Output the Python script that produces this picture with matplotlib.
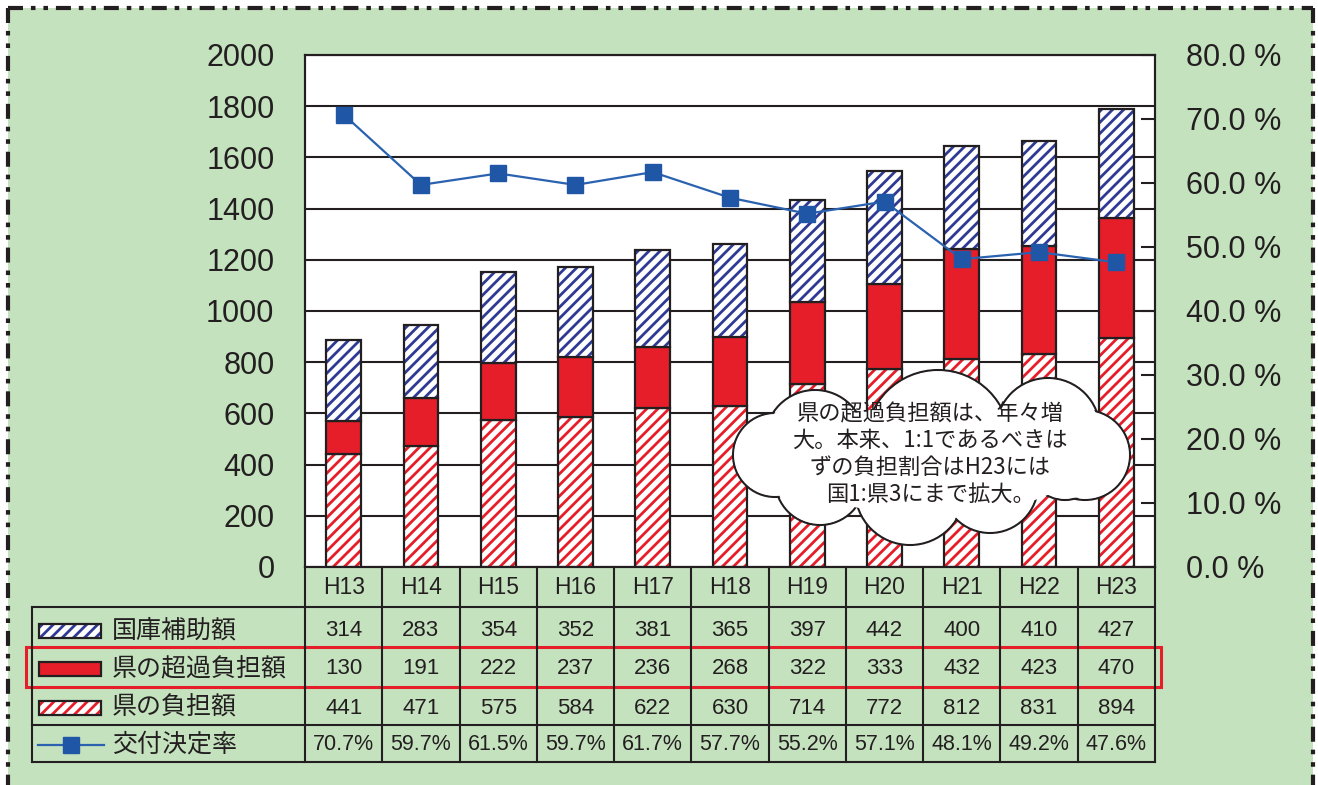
import matplotlib
matplotlib.use("Agg")
import numpy as np
import matplotlib.pyplot as plt
from matplotlib.patches import Rectangle, Circle, Ellipse
from matplotlib.transforms import blended_transform_factory

plt.rcParams['font.family'] = ['Liberation Sans', 'Noto Sans CJK JP', 'DejaVu Sans']
plt.rcParams['hatch.linewidth'] = 2.0

# data (億円 / %)
years = ['H13', 'H14', 'H15', 'H16', 'H17', 'H18', 'H19', 'H20', 'H21', 'H22', 'H23']
kokko = [314, 283, 354, 352, 381, 365, 397, 442, 400, 410, 427]     # 国庫補助額
chouka = [130, 191, 222, 237, 236, 268, 322, 333, 432, 423, 470]    # 県の超過負担額
ken = [441, 471, 575, 584, 622, 630, 714, 772, 812, 831, 894]       # 県の負担額
rate = [70.7, 59.7, 61.5, 59.7, 61.7, 57.7, 55.2, 57.1, 48.1, 49.2, 47.6]  # 交付決定率
row_names = ['国庫補助額', '県の超過負担額', '県の負担額', '交付決定率']
left_ticks = list(range(0, 2001, 200))
right_ticks = list(range(0, 81, 10))
note = "県の超過負担額は、年々増\n大。本来、1:1であるべきは\nずの負担割合はH23には\n国1:県3にまで拡大。"

GREEN = '#C5E2BF'
DARK = '#231F20'
RED = '#E61E2A'
BLUE_H = '#2E3A94'
LINE_BLUE = '#2A62B0'
MARK = '#1F56A6'
JP = ['Noto Sans CJK JP']
HATCH = '///'

W, H = 1318, 785
AX_L, AX_R, AX_T, AX_B = 305, 1155, 55, 567
TBL_L = 32

fig = plt.figure(figsize=(W / 100, H / 100), dpi=100)
fig.patch.set_facecolor('white')

# green panel behind everything
bg = fig.add_axes([0, 0, 1, 1], zorder=0)
bg.set_xlim(0, W)
bg.set_ylim(H, 0)
bg.axis('off')
bg.add_patch(Rectangle((8, 8), 1305, 800, facecolor=GREEN, edgecolor='none'))

# main chart
ax = fig.add_axes([AX_L / W, 1 - AX_B / H, (AX_R - AX_L) / W, (AX_B - AX_T) / H], zorder=1)
ax.set_facecolor('white')
x = np.arange(len(years))
bw = 0.45
ax.set_xlim(-0.5, len(years) - 0.5)
ax.set_ylim(0, 2000)

ax.bar(x, ken, bw, color='white', edgecolor=RED, hatch=HATCH, linewidth=0)
ax.bar(x, ken, bw, facecolor='none', edgecolor=DARK, linewidth=1.6)
ax.bar(x, chouka, bw, bottom=ken, color=RED, edgecolor=DARK, linewidth=1.6)
b2 = np.add(ken, chouka)
ax.bar(x, kokko, bw, bottom=b2, color='white', edgecolor=BLUE_H, hatch=HATCH, linewidth=0)
ax.bar(x, kokko, bw, bottom=b2, facecolor='none', edgecolor=DARK, linewidth=1.6)

ax.set_axisbelow(True)
ax.yaxis.grid(True, color=DARK, linewidth=1.5)
ax.set_xticks([])
ax.set_yticks(left_ticks)
ax.tick_params(axis='y', length=0, pad=22, labelsize=22, labelcolor=DARK)
for s in ax.spines.values():
    s.set_color(DARK)
    s.set_linewidth(1.5)

ax2 = ax.twinx()
ax2.set_ylim(0, 80)
ax2.set_yticks(right_ticks)
ax2.set_yticklabels([f'{v:.1f} %' for v in right_ticks])
ax2.tick_params(axis='y', direction='in', length=10, width=1.5, color=DARK,
                pad=22, labelsize=22, labelcolor=DARK)
for s in ax2.spines.values():
    s.set_color(DARK)
    s.set_linewidth(1.5)
ax2.plot(x, rate, color=LINE_BLUE, linewidth=1.6, marker='s', markersize=12,
         markerfacecolor=MARK, markeredgecolor=MARK, zorder=5)

# overlay in pixel units: table, callout, frame
ov = fig.add_axes([0, 0, 1, 1], zorder=3)
ov.set_xlim(0, W)
ov.set_ylim(H, 0)
ov.axis('off')
ov.patch.set_alpha(0)
tr = blended_transform_factory(ax.transData, ov.transData)

# header row with years
for i, yr in enumerate(years):
    ov.text(i, 587, yr, transform=tr, ha='center', va='center', fontsize=16.5, color=DARK)
for b in np.arange(-0.5, len(years)):
    ov.plot([b, b], [AX_B, 762], transform=tr, color=DARK, linewidth=1.5)
for yy in (607, 725, 762):
    ov.plot([TBL_L, AX_R], [yy, yy], color=DARK, linewidth=1.5)
ov.plot([TBL_L, TBL_L], [607, 762], color=DARK, linewidth=1.5)

row_y = [631, 669, 708, 745]
for yc, vals in zip(row_y[:3], (kokko, chouka, ken)):
    for i, v in enumerate(vals):
        ov.text(i, yc, str(v), transform=tr, ha='center', va='center', fontsize=16, color=DARK)
for i, r in enumerate(rate):
    ov.text(i, row_y[3], f'{r:.1f}%', transform=tr, ha='center', va='center', fontsize=15.5, color=DARK)

# legend swatches
sx, sw, sh = 39, 62, 14
ov.add_patch(Rectangle((sx, row_y[0] - sh / 2), sw, sh, facecolor='white', edgecolor=BLUE_H, hatch=HATCH, linewidth=0))
ov.add_patch(Rectangle((sx, row_y[0] - sh / 2), sw, sh, facecolor='none', edgecolor=DARK, linewidth=1.6))
ov.add_patch(Rectangle((sx, row_y[1] - sh / 2), sw, sh, facecolor=RED, edgecolor=DARK, linewidth=1.6))
ov.add_patch(Rectangle((sx, row_y[2] - sh / 2), sw, sh, facecolor='white', edgecolor=RED, hatch=HATCH, linewidth=0))
ov.add_patch(Rectangle((sx, row_y[2] - sh / 2), sw, sh, facecolor='none', edgecolor=DARK, linewidth=1.6))
ov.plot([38, 104], [row_y[3], row_y[3]], color=LINE_BLUE, linewidth=1.6)
ov.plot([71], [row_y[3]], 's', markersize=12, markerfacecolor=MARK, markeredgecolor=MARK)
for yc, name in zip(row_y, row_names):
    ov.text(112, yc, name, ha='left', va='center', fontsize=18, color=DARK, family=JP)

# red highlight around 県の超過負担額 row
ov.add_patch(Rectangle((26, 647), 1135, 40, fill=False, edgecolor=RED, linewidth=2.2))

# cloud callout
bumps = [(815, 440, 50), (938, 442, 72), (1048, 430, 52), (1085, 455, 45),
         (1065, 462, 38), (910, 490, 55), (990, 485, 48), (820, 480, 45), (775, 455, 42)]
for cx, cy, r in bumps:
    ov.add_patch(Circle((cx, cy), r, facecolor='white', edgecolor=DARK, linewidth=1.5, zorder=10))
for cx, cy, r in bumps:
    ov.add_patch(Circle((cx, cy), r - 1.5, facecolor='white', edgecolor='none', zorder=11))
ov.add_patch(Ellipse((932, 460), 300, 110, facecolor='white', edgecolor='none', zorder=11))
ov.text(930, 454, note, ha='center', va='center', fontsize=16, color=DARK,
        family=JP, linespacing=1.2, zorder=12)

# dash-dot frame
frame_ls = (0, (3.6, 1.9, 1.1, 1.9, 1.1, 1.9))
for xs, ys in (([8, 1313], [8, 8]), ([8, 8], [8, 800]), ([1313, 1313], [8, 800])):
    ov.plot(xs, ys, color=DARK, linewidth=3, linestyle=frame_ls)

fig.savefig('out.png', dpi=100)
